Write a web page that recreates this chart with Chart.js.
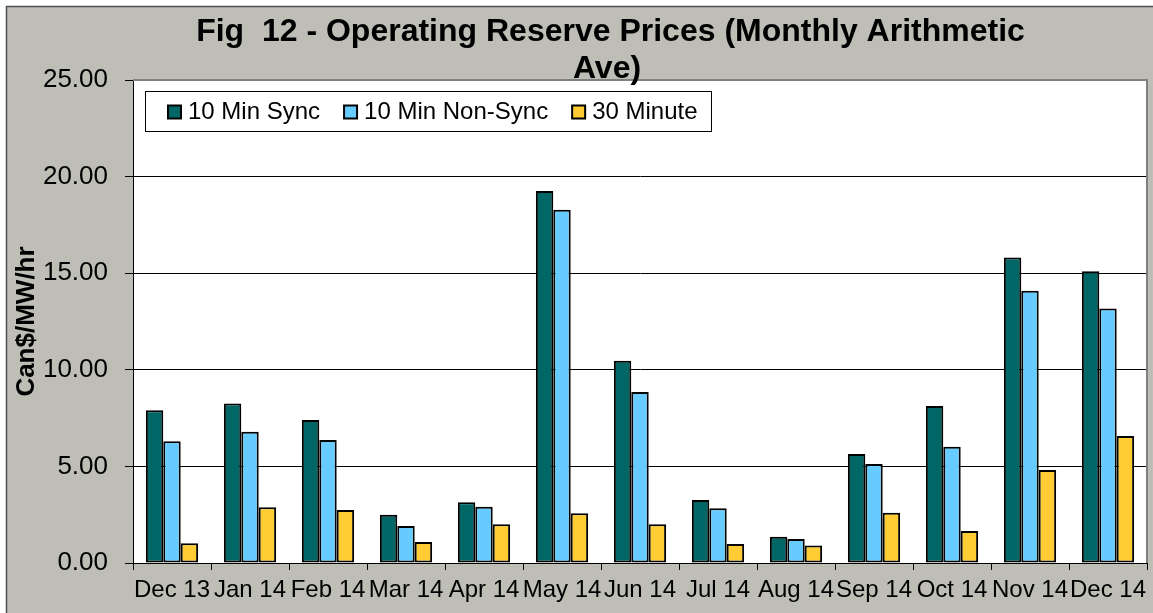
<!DOCTYPE html>
<html><head><meta charset="utf-8">
<script src="https://cdn.jsdelivr.net/npm/chart.js@4/dist/chart.umd.min.js"></script>
<style>html,body{margin:0;padding:0;background:#fff;overflow:hidden}canvas{display:block}</style>
</head><body>
<canvas id="c" width="1153" height="613"></canvas>
<script>
const categories = ['Dec 13','Jan 14','Feb 14','Mar 14','Apr 14','May 14','Jun 14','Jul 14','Aug 14','Sep 14','Oct 14','Nov 14','Dec 14'];
const sync10 = [7.91, 8.26, 7.40, 2.50, 3.14, 19.26, 10.47, 3.26, 1.36, 5.64, 8.12, 15.81, 15.10];
const nonSync10 = [6.30, 6.79, 6.36, 1.91, 2.91, 18.29, 8.85, 2.83, 1.24, 5.12, 6.02, 14.09, 13.17];
const min30 = [1.02, 2.88, 2.74, 1.09, 2.00, 2.57, 2.00, 0.98, 0.90, 2.60, 1.66, 4.81, 6.57];
const seriesNames = ['10 Min Sync','10 Min Non-Sync','30 Minute'];
const yTicks = [0, 5, 10, 15, 20, 25];
const titleLines = ['Fig  12 - Operating Reserve Prices (Monthly Arithmetic', 'Ave)'];
const yTitle = 'Can$/MW/hr';

const FONT = "'Liberation Sans', Arial, Helvetica, sans-serif";
Chart.defaults.font.family = FONT;

const frame = {
  id: 'frame',
  beforeDraw(chart) {
    const ctx = chart.ctx, a = chart.chartArea;
    ctx.save();
    ctx.fillStyle = '#ffffff';
    ctx.fillRect(0, 0, chart.width, chart.height);
    ctx.fillStyle = '#bebeb6';
    ctx.fillRect(6, 6, chart.width, chart.height);
    ctx.strokeStyle = '#505050';
    ctx.lineWidth = 1.5;
    ctx.strokeRect(6.5, 6.5, chart.width + 10, chart.height + 10);
    ctx.fillStyle = '#ffffff';
    ctx.fillRect(a.left, a.top, a.right - a.left, a.bottom - a.top);
    ctx.restore();
  },
  afterDraw(chart) {
    const ctx = chart.ctx, a = chart.chartArea;
    ctx.save();
    // plot border top/right
    ctx.strokeStyle = '#808080';
    ctx.lineWidth = 2;
    ctx.beginPath();
    ctx.moveTo(a.left, a.top);
    ctx.lineTo(a.right, a.top);
    ctx.lineTo(a.right, a.bottom);
    ctx.stroke();
    // legend
    const lx = 145, ly = 91, lw = 566, lh = 40;
    ctx.fillStyle = '#fff';
    ctx.fillRect(lx, ly, lw, lh);
    ctx.strokeStyle = '#000';
    ctx.lineWidth = 1;
    ctx.strokeRect(lx + 0.5, ly + 0.5, lw, lh);
    ctx.font = '24px ' + FONT;
    ctx.textBaseline = 'middle';
    ctx.textAlign = 'left';
    let x = 168;
    const cy = ly + lh / 2 + 1;
    chart.data.datasets.forEach(ds => {
      ctx.fillStyle = ds.backgroundColor;
      ctx.fillRect(x, cy - 6.5, 13, 13);
      ctx.strokeStyle = '#000';
      ctx.lineWidth = 2;
      ctx.strokeRect(x, cy - 6.5, 13, 13);
      ctx.fillStyle = '#000';
      ctx.fillText(ds.label, x + 20, cy);
      x += 20 + ctx.measureText(ds.label).width + 24;
    });
    // title
    ctx.font = 'bold 32px ' + FONT;
    ctx.textAlign = 'center';
    ctx.textBaseline = 'alphabetic';
    ctx.fillStyle = '#000';
    ctx.fillText(titleLines[0], 610.5, 41);
    ctx.fillText(titleLines[1], 607, 77.5);
    ctx.restore();
  }
};

new Chart(document.getElementById('c'), {
  type: 'bar',
  data: {
    labels: categories,
    datasets: [
      { label: seriesNames[0], data: sync10, backgroundColor: '#006666' },
      { label: seriesNames[1], data: nonSync10, backgroundColor: '#66ccff' },
      { label: seriesNames[2], data: min30, backgroundColor: '#ffcc33' }
    ].map(d => Object.assign(d, { borderColor: '#000', borderWidth: 2, borderSkipped: false, categoryPercentage: 0.67, barPercentage: 1 }))
  },
  options: {
    responsive: false,
    animation: false,
    devicePixelRatio: 1,
    layout: { padding: { left: 0, top: 80, right: 6, bottom: 0 } },
    plugins: { legend: { display: false }, title: { display: false }, tooltip: { enabled: false } },
    scales: {
      x: {
        grid: { display: true, drawOnChartArea: false, drawTicks: true, tickLength: 7, tickColor: '#000', offset: true },
        border: { display: true, color: '#000', width: 1 },
        ticks: { color: '#000', font: { size: 24 }, maxRotation: 0, minRotation: 0, autoSkip: false, padding: 6 },
        afterFit(s) { s.height = 50; }
      },
      y: {
        min: 0, max: 25,
        afterBuildTicks(s) { s.ticks = yTicks.map(v => ({ value: v })); },
        grid: { color: '#000', lineWidth: 1, drawTicks: true, tickLength: 8, tickColor: '#000' },
        border: { display: true, color: '#000', width: 1 },
        ticks: { color: '#000', font: { size: 26 }, padding: 17, callback: v => Number(v).toFixed(2) },
        title: { display: true, text: yTitle, color: '#000', font: { size: 26, weight: 'bold' }, padding: { top: 11, bottom: 0 } },
        afterFit(s) { s.width = 133; }
      }
    }
  },
  plugins: [frame]
});
</script>
</body></html>
